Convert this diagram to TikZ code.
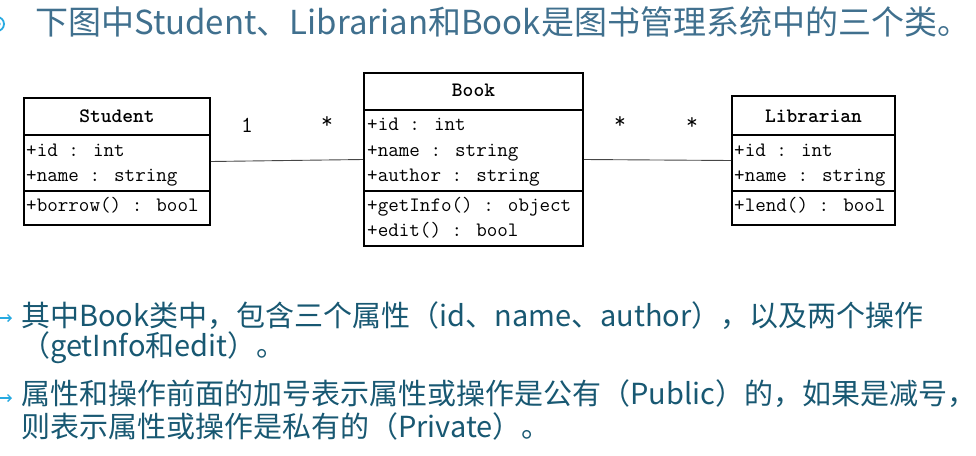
\documentclass[tikz,border=0pt]{standalone}
\usepackage{fontspec}
\usetikzlibrary{arrows.meta}
\newfontfamily\cjk{Noto Sans CJK SC}
\definecolor{titlecol}{RGB}{64,112,142}
\definecolor{bodycol}{RGB}{24,88,114}
\definecolor{accent}{RGB}{40,170,225}
\definecolor{linecol}{RGB}{70,70,70}
\begin{document}
\begin{tikzpicture}[x=1pt,y=-1pt,
  classbox/.style={draw=black, line width=1.6pt, inner sep=0pt, fill=white},
  sepline/.style={draw=black, line width=1.6pt},
  hdr/.style={font=\fontsize{20.5}{20.5}\selectfont\ttfamily\bfseries, anchor=base, inner sep=0pt},
  mem/.style={font=\fontsize{20.5}{20.5}\selectfont\ttfamily, anchor=base west, inner sep=0pt},
  mult/.style={font=\fontsize{23}{23}\selectfont\ttfamily, inner sep=0pt},
  assoc/.style={draw=linecol, line width=0.9pt},
  titletext/.style={font=\cjk\fontsize{33}{33}\selectfont, text=titlecol, anchor=base west, inner sep=0pt},
  bodytext/.style={font=\cjk\fontsize{29}{29}\selectfont, text=bodycol, anchor=base west, inner sep=0pt},
  arrowmark/.style={draw=accent, line width=1.3pt, -{Straight Barb[length=3.5pt,width=7pt]}}
]
\useasboundingbox (0,0) rectangle (976,455);

% title icon (cut at left edge)
\begin{scope}
\clip (0,0) rectangle (976,455);
\draw[accent, line width=1.8pt] (-3,24) circle (7);
\draw[accent, line width=1.2pt] (-3,24) circle (3);
\end{scope}

\node[titletext] (title) at (35,34.5) {下图中Student、Librarian和Book是图书管理系统中的三个类。};

% Student
\node[classbox, minimum width=186pt, minimum height=127pt] (student) at (117,161.5) {};
\draw[sepline] ([yshift=-38pt]student.north west) -- ([yshift=-38pt]student.north east);
\draw[sepline] ([yshift=-94pt]student.north west) -- ([yshift=-94pt]student.north east);
\node[hdr] (sname) at (117,122.7) {Student};
\node[mem] (s1) at (26,156) {+id : int};
\node[mem] (s2) at (26,181.7) {+name : string};
\node[mem] (s3) at (26,211.5) {+borrow() : bool};

% Book
\node[classbox, minimum width=219pt, minimum height=173pt] (book) at (473.5,159.5) {};
\draw[sepline] ([yshift=-38pt]book.north west) -- ([yshift=-38pt]book.north east);
\draw[sepline] ([yshift=-119pt]book.north west) -- ([yshift=-119pt]book.north east);
\node[hdr] (bname) at (473.5,96.7) {Book};
\node[mem] (b1) at (367,130.7) {+id : int};
\node[mem] (b2) at (367,156) {+name : string};
\node[mem] (b3) at (367,181.7) {+author : string};
\node[mem] (b4) at (367,211.5) {+getInfo() : object};
\node[mem] (b5) at (367,236.7) {+edit() : bool};

% Librarian
\node[classbox, minimum width=163pt, minimum height=129pt] (librarian) at (813.5,160.5) {};
\draw[sepline] ([yshift=-40pt]librarian.north west) -- ([yshift=-40pt]librarian.north east);
\draw[sepline] ([yshift=-96pt]librarian.north west) -- ([yshift=-96pt]librarian.north east);
\node[hdr] (lname) at (813.5,122.7) {Librarian};
\node[mem] (l1) at (734,156) {+id : int};
\node[mem] (l2) at (734,181.7) {+name : string};
\node[mem] (l3) at (734,211.5) {+lend() : bool};

% associations
\draw[assoc] (student.east) -- (book.west);
\draw[assoc] (book.east) -- (librarian.west);
\node[mult, anchor=base] (m1) at (247,132) {1};
\node[mult] (m2) at (327,123) {*};
\node[mult] (m3) at (620,123) {*};
\node[mult] (m4) at (692,124) {*};

% bullet marks
\draw[arrowmark] (0,318) -- (12,318);
\draw[arrowmark] (0,398) -- (12,398);

% bullet text
\node[bodytext] (t1) at (21,326) {其中Book类中，包含三个属性（id、name、author），以及两个操作};
\node[bodytext] (t2) at (21,356) {（getInfo和edit）。};
\node[bodytext] (t3) at (21,404) {属性和操作前面的加号表示属性或操作是公有（Public）的，如果是减号，};
\node[bodytext] (t4) at (21,437) {则表示属性或操作是私有的（Private）。};
\end{tikzpicture}
\end{document}
